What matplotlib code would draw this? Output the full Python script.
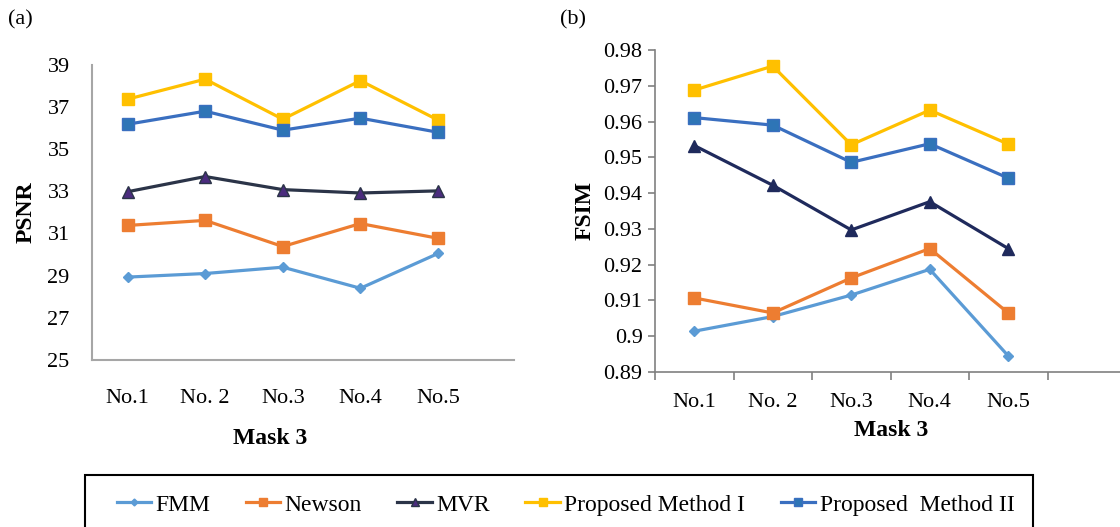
import matplotlib.pyplot as plt
from matplotlib.patches import Rectangle

plt.rcParams['font.family'] = ['Liberation Serif', 'DejaVu Serif']

# data
cats = ["No.1", "No. 2", "No.3", "No.4", "No.5"]
names = ["FMM", "Newson", "MVR", "Proposed Method I", "Proposed  Method II"]

psnr_fmm = [28.93, 29.1, 29.4, 28.4, 30.05]
psnr_newson = [31.38, 31.62, 30.38, 31.47, 30.77]
psnr_mvr = [32.98, 33.7, 33.08, 32.92, 33.02]
psnr_pm1 = [37.37, 38.32, 36.42, 38.25, 36.38]
psnr_pm2 = [36.18, 36.8, 35.9, 36.47, 35.8]

fsim_fmm = [0.9014, 0.9055, 0.9115, 0.9187, 0.8945]
fsim_newson = [0.9107, 0.9065, 0.9163, 0.9245, 0.9065]
fsim_mvr = [0.9533, 0.9422, 0.9297, 0.9376, 0.9245]
fsim_pm1 = [0.9688, 0.9755, 0.9535, 0.9632, 0.9537]
fsim_pm2 = [0.9611, 0.959, 0.9486, 0.9538, 0.9442]

colors = ["#5B9BD5", "#ED7D31", "#2B3448", "#FFC000", "#3A6FC0"]
mfc = ["#5B9BD5", "#ED7D31", "#4B2C7E", "#FFC000", "#2E75B6"]
markers = ["D", "s", "^", "s", "s"]
msizes = [5, 8.5, 9, 8.5, 8]

fig = plt.figure(figsize=(11.2, 5.27), dpi=100)

# (a) PSNR
ax1 = fig.add_axes([0.082, 0.317, 0.377, 0.56])
xs = range(len(cats))
for i, ys in enumerate([psnr_fmm, psnr_newson, psnr_mvr, psnr_pm1, psnr_pm2]):
    ax1.plot(xs, ys, color=colors[i], lw=2.3, marker=markers[i], ms=msizes[i],
             mfc=mfc[i], mec=colors[i], label=names[i])
ax1.set_ylim(25, 39)
ax1.set_yticks(range(25, 40, 2))
ax1.set_xlim(-0.46, 4.98)
ax1.set_xticks(list(xs))
ax1.set_xticklabels(cats)
ax1.tick_params(axis='both', length=0, labelsize=16)
ax1.tick_params(axis='y', pad=16)
ax1.tick_params(axis='x', pad=21)
for s in ['top', 'right']:
    ax1.spines[s].set_visible(False)
for s in ['left', 'bottom']:
    ax1.spines[s].set_color('#A6A6A6')
    ax1.spines[s].set_linewidth(1.5)
ax1.set_ylabel("PSNR", fontsize=17, fontweight='bold', labelpad=8)
fig.text(270 / 1120, 1 - 438 / 527, "Mask 3", fontsize=17, fontweight='bold',
         ha='center', va='center')

# (b) FSIM
ax2 = fig.add_axes([655 / 1120, 1 - 372 / 527, 471 / 1120, 322 / 527])
xs2 = [x + 0.5 for x in xs]
for i, ys in enumerate([fsim_fmm, fsim_newson, fsim_mvr, fsim_pm1, fsim_pm2]):
    c = "#1F2A5C" if i == 2 else colors[i]
    ax2.plot(xs2, ys, color=c, lw=2.3, marker=markers[i], ms=msizes[i],
             mfc=c if i == 2 else mfc[i], mec=c)
ax2.set_ylim(0.89, 0.98)
ax2.set_yticks([0.89, 0.9, 0.91, 0.92, 0.93, 0.94, 0.95, 0.96, 0.97, 0.98])
ax2.set_yticklabels(["0.89", "0.9", "0.91", "0.92", "0.93", "0.94", "0.95", "0.96", "0.97", "0.98"])
ax2.set_xlim(0, 6)
ax2.set_xticks(range(7))
ax2.set_xticklabels([])
ax2.set_xticks(xs2, minor=True)
ax2.set_xticklabels(cats, minor=True)
ax2.tick_params(axis='x', which='major', length=6, color='#808080', width=1.2)
ax2.tick_params(axis='x', which='minor', length=0, labelsize=16, pad=15)
ax2.tick_params(axis='y', length=5, color='#808080', width=1.2, labelsize=16, pad=4)
for s in ['top', 'right']:
    ax2.spines[s].set_visible(False)
for s in ['left', 'bottom']:
    ax2.spines[s].set_color('#808080')
    ax2.spines[s].set_linewidth(1.2)
ax2.set_ylabel("FSIM", fontsize=17, fontweight='bold', labelpad=6)
fig.text(891 / 1120, 1 - 430 / 527, "Mask 3", fontsize=17, fontweight='bold',
         ha='center', va='center')

fig.text(0.007, 0.962, "(a)", fontsize=16, va='center')
fig.text(0.5, 0.962, "(b)", fontsize=16, va='center')

# legend box
fig.patches.append(Rectangle((0.076, -0.05), 0.846, 0.149, transform=fig.transFigure,
                             fill=False, edgecolor='black', lw=1.5))
h, l = ax1.get_legend_handles_labels()
fig.legend(h, l, loc='center', bbox_to_anchor=(0.505, 0.042), ncol=5, frameon=False,
           fontsize=17, handlelength=1.45, handletextpad=0.2, columnspacing=1.5,
           markerscale=0.7)

fig.savefig("out.png", dpi=100)
